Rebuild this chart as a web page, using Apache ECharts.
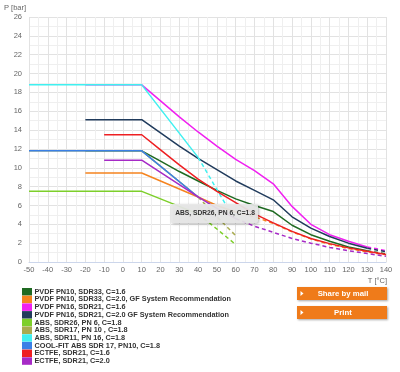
<!DOCTYPE html>
<html><head><meta charset="utf-8">
<script src="https://cdn.jsdelivr.net/npm/echarts@6/dist/echarts.min.js"></script>
<style>html,body{margin:0;padding:0;background:#fff}#c{width:400px;height:372px}</style>
</head><body><div id="c"></div>
<script>
// ---- data (T [°C], P [bar]) ----
const names = [
  'PVDF PN10, SDR33, C=1.6',
  'PVDF PN10, SDR33, C=2.0, GF System Recommendation',
  'PVDF PN16, SDR21, C=1.6',
  'PVDF PN16, SDR21, C=2.0 GF System Recommendation',
  'ABS, SDR26, PN 6, C=1.8',
  'ABS, SDR17, PN 10 , C=1.8',
  'ABS, SDR11, PN 16, C=1.8',
  'COOL-FIT ABS SDR 17, PN10, C=1.8',
  'ECTFE, SDR21, C=1.6',
  'ECTFE, SDR21, C=2.0'
];
const pvdf10c16 = [[-20,11.8],[10,11.8],[20,10.7],[30,9.6],[40,8.6],[50,7.6],[60,6.7],[70,6.0],[80,5.35],[90,3.9],[100,2.9],[110,2.2],[120,1.6],[130,1.2],[140,0.85]];
const pvdf10c20 = [[-20,9.45],[10,9.45],[20,8.6],[30,7.75],[40,6.9],[50,6.0],[60,5.3],[70,4.8],[80,4.1],[90,3.2],[100,2.45],[110,1.88],[120,1.43],[130,1.08],[140,0.76]];
const pvdf16c16 = [[-20,18.8],[10,18.8],[20,17.1],[30,15.4],[40,13.8],[50,12.3],[60,10.9],[70,9.7],[80,8.3],[90,5.9],[100,4.0],[110,2.9],[120,2.2],[130,1.6],[140,1.2]];
const pvdf16c20 = [[-20,15.1],[10,15.1],[20,13.7],[30,12.3],[40,11.0],[50,9.8],[60,8.6],[70,7.6],[80,6.6],[90,4.8],[100,3.6],[110,2.7],[120,2.0],[130,1.45],[140,1.1]];
const abs26 = [[-50,7.5],[10,7.5],[20,6.7],[30,5.9],[40,5.1],[50,3.5],[60,1.85]];
const abs17 = [[-50,11.8],[10,11.8],[40,6.9],[50,4.8],[60,2.8]];
const abs11 = [[-50,18.8],[10,18.8],[40,11.1],[55,6.0]];
const coolfit = [[-50,11.8],[10,11.8],[40,6.9]];
const ectfe16 = [[-10,13.5],[10,13.5],[20,11.9],[30,10.3],[40,8.8],[50,7.5],[60,6.3],[70,5.1],[80,4.15],[90,3.25],[100,2.5],[110,1.95],[120,1.5],[130,1.15],[140,0.8]];
const ectfe20 = [[-10,10.8],[10,10.8],[20,9.5],[30,8.2],[40,6.9],[50,5.7],[60,4.6],[70,3.8],[80,3.15],[90,2.5],[100,2.0],[110,1.55],[120,1.2],[130,0.9],[140,0.6]];
// temperature where each curve turns dashed (null = never)
const dashFrom = [130, 60, 130, 130, 40, 40, 40, null, null, 60];
const seriesData = [pvdf10c16, pvdf10c20, pvdf16c16, pvdf16c20, abs26, abs17, abs11, coolfit, ectfe16, ectfe20];
const colors = ['#1f6a22','#f5841f','#f020f0','#203b5c','#7dcf2a','#a9ab50','#40f0f0','#3a80e6','#ee1f22','#a62ac6'];
const xTicks = {min:-50, max:140, interval:10};
const yTicks = {min:0, max:26, interval:2};
const tipText = 'ABS, SDR26, PN 6, C=1.8';

const series = [];
seriesData.forEach((pts, i) => {
  const d = dashFrom[i];
  const solid = d === null ? pts : pts.filter(p => p[0] <= d);
  const dashed = d === null ? [] : pts.filter(p => p[0] >= d);
  series.push({name:names[i], type:'line', data:solid, symbol:'none', color:colors[i],
    lineStyle:{width:1.5, color:colors[i]}, z:2+i, silent:true, animation:false});
  if (dashed.length > 1) series.push({name:names[i], type:'line', data:dashed, symbol:'none', color:colors[i],
    lineStyle:{width:1.5, color:colors[i], type:[4,3]}, z:2+i, silent:true, animation:false});
});

const chart = echarts.init(document.getElementById('c'), null, {renderer:'canvas'});
const lbl = {color:'#666', fontSize:7.5, fontFamily:'Liberation Sans, Arial, sans-serif'};
function button(y, label){
  return [
    {type:'rect', shape:{x:297, y:y, width:90, height:13}, style:{fill:'#ef7b1a', shadowBlur:2, shadowColor:'rgba(0,0,0,0.35)', shadowOffsetX:1, shadowOffsetY:1}, z:100},
    {type:'polygon', shape:{points:[[300.5,y+4],[300.5,y+9],[303.5,y+6.5]]}, style:{fill:'#fff'}, z:101},
    {type:'text', style:{x:343, y:y+6.5, text:label, fill:'#fff', font:'bold 7.8px Liberation Sans, Arial, sans-serif', align:'center', verticalAlign:'middle'}, z:101}
  ];
}
chart.setOption({
  animation:false,
  backgroundColor:'#fff',
  grid:{left:29, right:14, top:17, bottom:110, containLabel:false},
  xAxis:{type:'value', min:xTicks.min, max:xTicks.max, interval:xTicks.interval,
    axisLine:{show:true, onZero:false, lineStyle:{color:'#ccd6eb'}},
    axisTick:{show:false},
    axisLabel:Object.assign({margin:4}, lbl),
    splitLine:{show:true, lineStyle:{color:'#e2e2e2', width:1}},
    minorTick:{show:false, splitNumber:2},
    minorSplitLine:{show:true, lineStyle:{color:'#efefef', width:1}}},
  yAxis:{type:'value', min:yTicks.min, max:yTicks.max, interval:yTicks.interval,
    axisLine:{show:false}, axisTick:{show:false},
    axisLabel:Object.assign({margin:7}, lbl),
    splitLine:{show:true, lineStyle:{color:'#e2e2e2', width:1}},
    minorTick:{show:false, splitNumber:2},
    minorSplitLine:{show:true, lineStyle:{color:'#efefef', width:1}}},
  legend:{show:true, orient:'vertical', left:22, top:288, height:100, padding:0, itemWidth:10, itemHeight:7.5, itemGap:0.2,
    icon:'rect', selectedMode:false, data:names,
    textStyle:{fontSize:7.3, fontWeight:'bold', color:'#333', lineHeight:7, padding:[0,0,0,-2.5], fontFamily:'Liberation Sans, Arial, sans-serif'}},
  graphic:[
    {type:'text', style:{x:4, y:8, text:'P [bar]', fill:'#666', font:'7.5px Liberation Sans, Arial, sans-serif', verticalAlign:'middle'}},
    {type:'text', style:{x:387, y:281, text:'T [°C]', fill:'#666', font:'7.5px Liberation Sans, Arial, sans-serif', align:'right', verticalAlign:'middle'}},
    {type:'rect', shape:{x:171, y:204, width:87, height:19, r:2}, style:{fill:'rgba(232,232,232,0.92)', shadowBlur:3, shadowColor:'rgba(0,0,0,0.3)', shadowOffsetX:1, shadowOffsetY:1}, z:90},
    {type:'text', style:{x:215, y:213.5, text:tipText, fill:'#333', font:'bold 6.7px Liberation Sans, Arial, sans-serif', align:'center', verticalAlign:'middle'}, z:91}
  ].concat(button(287, 'Share by mail'), button(306, 'Print')),
  series:series
});
</script></body></html>
